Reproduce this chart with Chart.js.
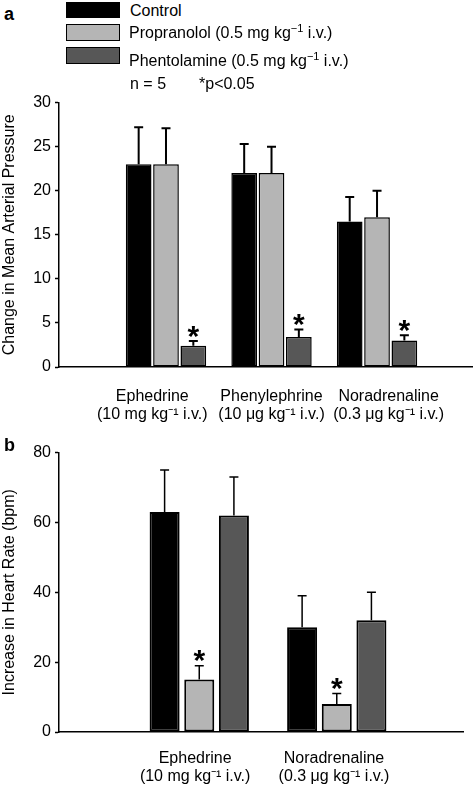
<!DOCTYPE html>
<html><head><meta charset="utf-8">
<script src="https://cdn.jsdelivr.net/npm/chart.js@4"></script>
<style>
body{margin:0;background:#fff;width:474px;height:786px;overflow:hidden;position:relative;font-family:"Liberation Sans",Arial,sans-serif;color:#000}
#wrapA{position:absolute;left:0;top:89px;width:474px;height:351px}
#wrapB{position:absolute;left:0;top:439px;width:474px;height:347px}
.lbl{position:absolute;font-size:16px;line-height:18px;white-space:nowrap;z-index:2}
.panel{position:absolute;left:4px;font-size:18px;line-height:18px;font-weight:bold;z-index:2}
.box{position:absolute;left:66px;width:54px;height:16px;box-sizing:border-box;border:1.5px solid #000}
sup{font-size:11px;line-height:0;vertical-align:6px}
</style></head>
<body>
<div class="panel" style="top:5px">a</div>
<div class="panel" style="top:436px">b</div>
<div id="legend"></div>
<div class="lbl" style="left:130px;top:75px">n = 5</div>
<div class="lbl" style="left:199px;top:75px">*p&lt;0.05</div>
<div id="wrapA"><canvas id="cA"></canvas></div>
<div id="wrapB"><canvas id="cB"></canvas></div>
<script>
// ---- data ----
const seriesNames = ["Control", "Propranolol (0.5 mg kg⁻¹ i.v.)", "Phentolamine (0.5 mg kg⁻¹ i.v.)"];
const seriesNamesHtml = ["Control", "Propranolol (0.5 mg kg<sup>−1</sup> i.v.)", "Phentolamine (0.5 mg kg<sup>−1</sup> i.v.)"];
const categoriesA = [["Ephedrine", "(10 mg kg⁻¹ i.v.)"], ["Phenylephrine", "(10 μg kg⁻¹ i.v.)"], ["Noradrenaline", "(0.3 μg kg⁻¹ i.v.)"]];
const categoriesB = [["Ephedrine", "(10 mg kg⁻¹ i.v.)"], ["Noradrenaline", "(0.3 μg kg⁻¹ i.v.)"]];

const mapControl = [23, 22, 16.5];
const mapControlErr = [4.2, 3.3, 2.8];
const mapPropranolol = [23, 22, 17];
const mapPropranololErr = [4.1, 3.0, 3.0];
const mapPhentolamine = [2.4, 3.4, 3.0];
const mapPhentolamineErr = [0.55, 0.85, 0.6];
const mapSignificant = [[false, false, false], [false, false, false], [true, true, true]];

const hrControl = [63, 30];
const hrControlErr = [12, 9];
const hrPropranolol = [15, 8];
const hrPropranololErr = [4, 3];
const hrPhentolamine = [62, 32];
const hrPhentolamineErr = [11, 8];
const hrSignificant = [[false, false], [true, true], [false, false]];

const yTicksA = [0, 5, 10, 15, 20, 25, 30];
const yTicksB = [0, 20, 40, 60, 80];

// ---- styling ----
const colors = ["#000000", "#b5b5b5", "#575757"];
const FONT = '"Liberation Sans", Arial, sans-serif';
Chart.defaults.font.family = FONT;
Chart.defaults.font.size = 16;
Chart.defaults.color = "#000";

// legend (HTML)
const leg = document.getElementById("legend");
const boxTops = [2, 24, 47], boxH = [16, 17, 17], txtTops = [2, 23.5, 51.5], txtLeft = [130, 129, 129];
seriesNamesHtml.forEach((n, i) => {
  const b = document.createElement("div");
  b.className = "box"; b.style.top = boxTops[i] + "px"; b.style.height = boxH[i] + "px"; b.style.background = colors[i];
  leg.appendChild(b);
  const t = document.createElement("div");
  t.className = "lbl"; t.style.left = txtLeft[i] + "px"; t.style.top = txtTops[i] + "px"; t.innerHTML = n;
  leg.appendChild(t);
});

const errPlugin = {
  id: "errbars",
  afterDatasetsDraw(chart, args, opts) {
    const ctx = chart.ctx, ys = chart.scales.y;
    chart.data.datasets.forEach((ds, di) => {
      const meta = chart.getDatasetMeta(di);
      meta.data.forEach((bar, i) => {
        const v = ds.data[i].y, e = ds.err[i];
        const yBar = ys.getPixelForValue(v), yTop = ys.getPixelForValue(v + e);
        ctx.save();
        ctx.strokeStyle = "#000"; ctx.lineWidth = opts.lw;
        ctx.beginPath();
        ctx.moveTo(bar.x, yBar); ctx.lineTo(bar.x, yTop);
        ctx.moveTo(bar.x - opts.cap / 2, yTop); ctx.lineTo(bar.x + opts.cap / 2, yTop);
        ctx.stroke();
        if (ds.sig[i]) {
          const sz = 30;
          ctx.fillStyle = "#000";
          ctx.font = "bold " + sz + "px " + FONT;
          ctx.textAlign = "center"; ctx.textBaseline = "alphabetic";
          ctx.fillText("*", bar.x, yTop - 12.5 + 0.57 * sz);
        }
        ctx.restore();
      });
    });
  }
};

function buildDatasets(vals, errs, sigs, bw) {
  return vals.map((arr, k) => ({
    label: seriesNames[k],
    data: arr.map((v, j) => ({ x: j + 1, y: v })),
    err: errs[k], sig: sigs[k],
    backgroundColor: colors[k], borderColor: "#000", borderWidth: bw, borderSkipped: false
  }));
}

function makeChart(id, cfg) {
  return new Chart(document.getElementById(id), {
    type: "bar",
    data: { datasets: buildDatasets(cfg.vals, cfg.errs, cfg.sigs, cfg.bw) },
    options: {
      responsive: true, maintainAspectRatio: false, animation: false,
      categoryPercentage: cfg.catPct, barPercentage: cfg.barPct,
      layout: { padding: { top: 10, right: cfg.padRight, left: 0, bottom: 0 } },
      plugins: { legend: { display: false }, tooltip: { enabled: false }, errbars: { lw: cfg.lw, cap: 9 } },
      scales: {
        x: {
          type: "linear", min: cfg.xmin, max: cfg.xmax, offset: false,
          grid: { display: false, drawTicks: false, offset: false },
          border: { display: true, color: "#000", width: 1.5 },
          ticks: { padding: cfg.xpad, autoSkip: false, maxRotation: 0, font: { size: 16, lineHeight: 1.15 },
                   callback: (v, i) => cfg.cats[i] },
          afterBuildTicks: s => { s.ticks = cfg.labelPos.map(value => ({ value })); },
          afterFit: s => { s.height = cfg.xh; }
        },
        y: {
          min: cfg.yTicks[0], max: cfg.yTicks[cfg.yTicks.length - 1],
          afterBuildTicks: s => { s.ticks = cfg.yTicks.map(value => ({ value })); },
          ticks: { padding: 4, font: { size: 16 } },
          grid: { drawOnChartArea: false, drawTicks: true, tickLength: 4, tickColor: "#000", tickWidth: 1.5 },
          border: { display: true, color: "#000", width: 1.5 },
          title: { display: true, text: cfg.ytitle, padding: 0, font: { size: 16 } },
          afterFit: s => { s.width = 59; }
        }
      }
    },
    plugins: [errPlugin]
  });
}

makeChart("cA", {
  vals: [mapControl, mapPropranolol, mapPhentolamine],
  errs: [mapControlErr, mapPropranololErr, mapPhentolamineErr],
  sigs: mapSignificant, bw: 1.5, lw: 2,
  catPct: 0.777, barPct: 0.94, padRight: 2,
  xmin: -0.014, xmax: 3.90, labelPos: [0.87, 2.0, 3.11], cats: categoriesA, xpad: 20, xh: 73,
  yTicks: yTicksA, ytitle: "Change in Mean Arterial Pressure"
});
makeChart("cB", {
  vals: [hrControl, hrPropranolol, hrPhentolamine],
  errs: [hrControlErr, hrPropranololErr, hrPhentolamineErr],
  sigs: hrSignificant, bw: 2, lw: 1.5,
  catPct: 0.756, barPct: 0.866, padRight: 11,
  xmin: -0.02, xmax: 2.918, labelPos: [0.97, 1.98], cats: categoriesB, xpad: 17, xh: 54,
  yTicks: yTicksB, ytitle: "Increase in Heart Rate (bpm)"
});
</script>
</body></html>
